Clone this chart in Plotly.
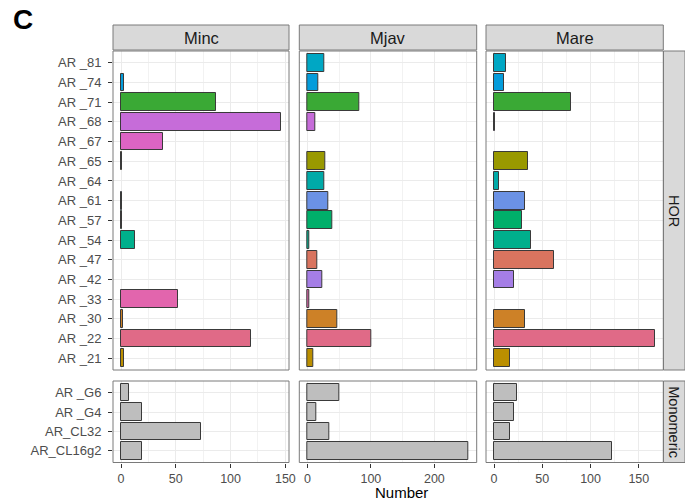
import plotly.graph_objects as go

# ---- data -------------------------------------------------------------
hor_labels = ["AR _81", "AR _74", "AR _71", "AR _68", "AR _67", "AR _65",
              "AR _64", "AR _61", "AR _57", "AR _54", "AR _47", "AR _42",
              "AR _33", "AR _30", "AR _22", "AR _21"]
mono_labels = ["AR _G6", "AR _G4", "AR_CL32", "AR_CL16g2"]

species = ["Minc", "Mjav", "Mare"]
groups = ["HOR", "Monomeric"]

minc_hor = [None, 3, 87, 146, 38, 1, None, 1, 1, 13, None, None, 52, 2, 119, 3]
mjav_hor = [27, 17, 82, 12, None, 29, 27, 33, 39, 3, 15, 24, 3, 47, 100, 10]
mare_hor = [12, 10, 80, 1, None, 35, 5, 32, 29, 38, 62, 21, None, 32, 167, 16]

minc_mono = [7, 19, 73, 19]
mjav_mono = [51, 14, 34, 254]
mare_mono = [24, 21, 17, 122]

x_ticks = {"Minc": [0, 50, 100, 150], "Mjav": [0, 100, 200], "Mare": [0, 50, 100, 150]}

# ---- styles -----------------------------------------------------------
hor_colors = ["#00A7C4", "#049CDB", "#3AA935", "#C66CD9", "#DC64C4", "#999900",
              "#00AAA8", "#6B92E5", "#00AF6A", "#00AF8C", "#D9745F", "#A57EE6",
              "#E265AD", "#CD8127", "#E06A87", "#BB8F00"]
mono_color = "#BEBEBE"

W, H = 685, 502
FONT = "Liberation Sans, Arial, Helvetica, sans-serif"
BORDER = "#7A7A7A"
GRID = "#EBEBEB"


def px(x):
    return x / W


def py(y):
    return 1 - y / H


col_px = [(113, 289), (299.3, 476.7), (486, 663.3)]
row_px = [(51, 370), (381, 462.5)]

hor_vals = {"Minc": minc_hor, "Mjav": mjav_hor, "Mare": mare_hor}
mono_vals = {"Minc": minc_mono, "Mjav": mjav_mono, "Mare": mare_mono}

fig = go.Figure()
layout = {}
shapes = []
annotations = []

for r, grp in enumerate(groups):
    labels = hor_labels if grp == "HOR" else mono_labels
    for c, sp in enumerate(species):
        idx = r * 3 + c + 1
        xa = "x" if idx == 1 else f"x{idx}"
        ya = "y" if idx == 1 else f"y{idx}"
        vals = hor_vals[sp] if grp == "HOR" else mono_vals[sp]
        colors = hor_colors if grp == "HOR" else [mono_color] * len(labels)
        fig.add_trace(go.Bar(
            y=labels, x=vals, orientation="h", width=0.9,
            marker=dict(color=colors, line=dict(color="#3A3A3A", width=1)),
            xaxis=xa, yaxis=ya, showlegend=False,
        ))

        m = max(v for v in hor_vals[sp] + mono_vals[sp] if v is not None)
        x0, x1 = col_px[c]
        y0, y1 = row_px[r]
        minor_step = (x_ticks[sp][1] - x_ticks[sp][0]) / 2
        layout["xaxis" if idx == 1 else f"xaxis{idx}"] = dict(
            domain=[px(x0), px(x1)], anchor=ya, automargin=False,
            range=[-0.05 * m, 1.05 * m],
            tickmode="array", tickvals=x_ticks[sp],
            showticklabels=(r == 1), ticks="outside" if r == 1 else "",
            ticklen=4, tickcolor="#333333", tickwidth=1,
            tickfont=dict(family=FONT, size=12.5, color="#4D4D4D"),
            showgrid=True, gridcolor=GRID, gridwidth=1.1, zeroline=False,
            minor=dict(tickmode="linear", tick0=minor_step, dtick=2 * minor_step,
                       showgrid=True, gridcolor="#F2F2F2", gridwidth=0.7),
            showline=False, fixedrange=True,
        )
        layout["yaxis" if idx == 1 else f"yaxis{idx}"] = dict(
            domain=[py(y1), py(y0)], anchor=xa, automargin=False,
            type="category", categoryorder="array",
            categoryarray=list(reversed(labels)),
            range=[-0.6, len(labels) - 0.4],
            showticklabels=(c == 0), ticks="outside" if c == 0 else "",
            ticklen=4, tickcolor="#333333", tickwidth=1, ticklabelstandoff=4,
            tickfont=dict(family=FONT, size=13, color="#4D4D4D"),
            showgrid=True, gridcolor=GRID, gridwidth=1.1, zeroline=False,
            showline=False, fixedrange=True,
        )
        # panel border
        shapes.append(dict(type="rect", xref="paper", yref="paper",
                           x0=px(x0), x1=px(x1), y0=py(y1), y1=py(y0),
                           line=dict(color=BORDER, width=1), layer="above"))

# column strips
for c, sp in enumerate(species):
    x0, x1 = col_px[c]
    shapes.append(dict(type="rect", xref="paper", yref="paper",
                       x0=px(x0), x1=px(x1), y0=py(50), y1=py(25),
                       fillcolor="#D9D9D9", line=dict(color=BORDER, width=1)))
    annotations.append(dict(text=sp, x=px((x0 + x1) / 2), y=py(37.5),
                            xref="paper", yref="paper", showarrow=False,
                            xanchor="center", yanchor="middle",
                            font=dict(family=FONT, size=16.5, color="#1A1A1A")))

# row strips
for r, grp in enumerate(groups):
    y0, y1 = row_px[r]
    shapes.append(dict(type="rect", xref="paper", yref="paper",
                       x0=px(663.5), x1=1.0, y0=py(y1), y1=py(y0),
                       fillcolor="#D9D9D9", line=dict(color=BORDER, width=1)))
    annotations.append(dict(text=grp, x=px(674.5), y=py((y0 + y1) / 2),
                            xref="paper", yref="paper", showarrow=False,
                            textangle=90, xanchor="center", yanchor="middle",
                            font=dict(family=FONT, size=14.5, color="#1A1A1A")))

# axis title and panel tag
annotations.append(dict(text="Number", x=px(401), y=py(492), xref="paper", yref="paper",
                        showarrow=False, xanchor="center", yanchor="middle",
                        font=dict(family=FONT, size=15, color="#000000")))
annotations.append(dict(text="<b>C</b>", x=px(11), y=py(20), xref="paper", yref="paper",
                        showarrow=False, xanchor="left", yanchor="middle",
                        font=dict(family=FONT, size=28, color="#000000")))

fig.update_layout(
    template="none",
    width=W, height=H, margin=dict(l=0, r=0, t=0, b=0, pad=0),
    paper_bgcolor="white", plot_bgcolor="white",
    shapes=shapes, annotations=annotations, bargap=0, **layout,
)

fig.write_html("out.html")
